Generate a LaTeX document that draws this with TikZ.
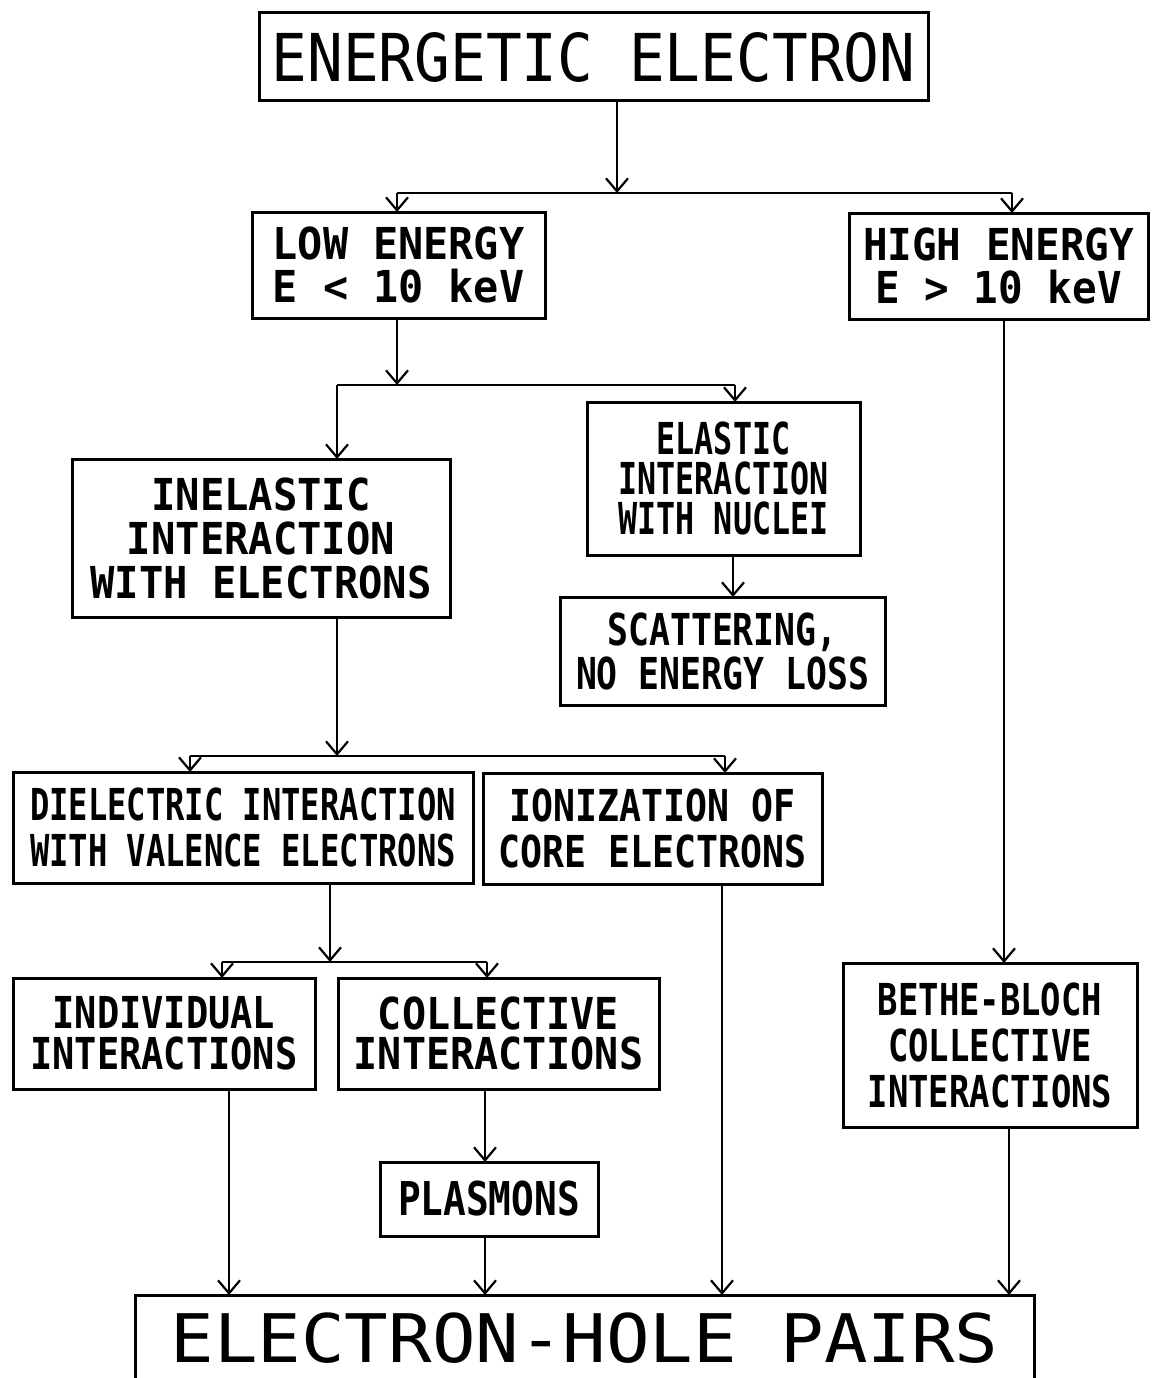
\documentclass[tikz,border=0pt]{standalone}
\usepackage{fontspec}
\usepackage{graphicx}
\usetikzlibrary{arrows.meta}
\newfontfamily\pf{DejaVu Sans Mono}
\newcommand\bxt[4]{{\pf\fontsize{#1}{#2}\selectfont\scalebox{#3}[1]{\vbox{\halign{\hfil##\hfil\cr#4\crcr}}}}}
\begin{document}
\begin{tikzpicture}[x=1pt,y=-1pt,
  box/.style={draw, line width=3pt, inner sep=0pt, outer sep=0pt, rectangle, font=\bfseries},
  big/.style={box, font=\mdseries},
  ln/.style={line width=2.2pt},
  arr/.style={line width=2.2pt, -{Straight Barb[length=13pt,width=22pt,line width=2.2pt]}}]
\fill[white] (0,0) rectangle (1152,1378);
\useasboundingbox (0,0) rectangle (1152,1378);

\node[big, minimum width=669pt, minimum height=88pt] (ee) at (593.5,57) {\bxt{66}{66}{0.90}{ENERGETIC ELECTRON}};
\node[box, minimum width=293pt, minimum height=106pt] (low) at (398.5,265) {\bxt{44}{43}{0.95}{LOW ENERGY\cr E < 10 keV}};
\node[box, minimum width=299pt, minimum height=106pt] (high) at (998.5,266) {\bxt{44}{43}{0.93}{HIGH ENERGY\cr E > 10 keV}};
\node[box, minimum width=273pt, minimum height=153pt] (elastic) at (723.5,478.5) {\bxt{44}{40}{0.72}{ELASTIC\cr INTERACTION\cr WITH NUCLEI}};
\node[box, minimum width=325pt, minimum height=108pt] (scat) at (722.5,651) {\bxt{44}{44}{0.79}{SCATTERING,\cr NO ENERGY LOSS}};
\node[box, minimum width=378pt, minimum height=158pt] (inel) at (261,538) {\bxt{44}{44}{0.92}{INELASTIC\cr INTERACTION\cr WITH ELECTRONS}};
\node[box, minimum width=460pt, minimum height=111pt] (diel) at (243,827.5) {\bxt{44}{46}{0.73}{DIELECTRIC INTERACTION\cr WITH VALENCE ELECTRONS}};
\node[box, minimum width=339pt, minimum height=111pt] (ion) at (652.5,828.5) {\bxt{44}{46}{0.83}{IONIZATION OF\cr CORE ELECTRONS}};
\node[box, minimum width=302pt, minimum height=111pt] (indiv) at (164,1033.5) {\bxt{44}{41}{0.84}{INDIVIDUAL\cr INTERACTIONS}};
\node[box, minimum width=321pt, minimum height=111pt] (coll) at (498.5,1033.5) {\bxt{44}{40}{0.91}{COLLECTIVE\cr INTERACTIONS}};
\node[box, minimum width=218pt, minimum height=74pt] (plas) at (489,1199) {\bxt{46.6}{46}{0.81}{PLASMONS}};
\node[box, minimum width=294pt, minimum height=164pt] (bethe) at (990,1045) {\bxt{44}{46}{0.77}{BETHE-BLOCH\cr COLLECTIVE\cr INTERACTIONS}};
\node[big, minimum width=899pt, minimum height=86pt] (ehp) at (584.5,1338) {\bxt{67}{67}{1.08}{ELECTRON-HOLE PAIRS}};

% level 1 split
\coordinate (j1) at (617,193);
\coordinate (j1l) at (397,193);
\coordinate (j1r) at (1012,193);
\draw[arr] (ee.south -| j1) -- (j1);
\draw[ln] (j1l) -- (j1r);
\draw[arr] (j1l) -- (low.north -| j1l);
\draw[arr] (j1r) -- (high.north -| j1r);

% low energy split
\coordinate (j2) at (397,385);
\coordinate (j2l) at (337,385);
\coordinate (j2r) at (735,385);
\draw[arr] (low.south -| j2) -- (j2);
\draw[ln] (j2l) -- (j2r);
\draw[arr] (j2l) -- (inel.north -| j2l);
\draw[arr] (j2r) -- (elastic.north -| j2r);

\coordinate (x3) at (733,576);
\draw[arr] (elastic.south -| x3) -- (scat.north -| x3);

% inelastic split
\coordinate (j3) at (337,756);
\coordinate (j3l) at (190,756);
\coordinate (j3r) at (725,756);
\draw[arr] (inel.south -| j3) -- (j3);
\draw[ln] (j3l) -- (j3r);
\draw[arr] (j3l) -- (diel.north -| j3l);
\draw[arr] (j3r) -- (ion.north -| j3r);

% dielectric split
\coordinate (j4) at (330,962);
\coordinate (j4l) at (222,962);
\coordinate (j4r) at (487,962);
\draw[arr] (diel.south -| j4) -- (j4);
\draw[ln] (j4l) -- (j4r);
\draw[arr] (j4l) -- (indiv.north -| j4l);
\draw[arr] (j4r) -- (coll.north -| j4r);

\coordinate (x5) at (485,1120);
\draw[arr] (coll.south -| x5) -- (plas.north -| x5);

\coordinate (x6) at (1004,600);
\draw[arr] (high.south -| x6) -- (bethe.north -| x6);

% into electron-hole pairs
\coordinate (x7) at (229,1200);
\coordinate (x8) at (722,1000);
\coordinate (x9) at (1009,1200);
\draw[arr] (indiv.south -| x7) -- (ehp.north -| x7);
\draw[arr] (plas.south -| x5) -- (ehp.north -| x5);
\draw[arr] (ion.south -| x8) -- (ehp.north -| x8);
\draw[arr] (bethe.south -| x9) -- (ehp.north -| x9);
\end{tikzpicture}
\end{document}
